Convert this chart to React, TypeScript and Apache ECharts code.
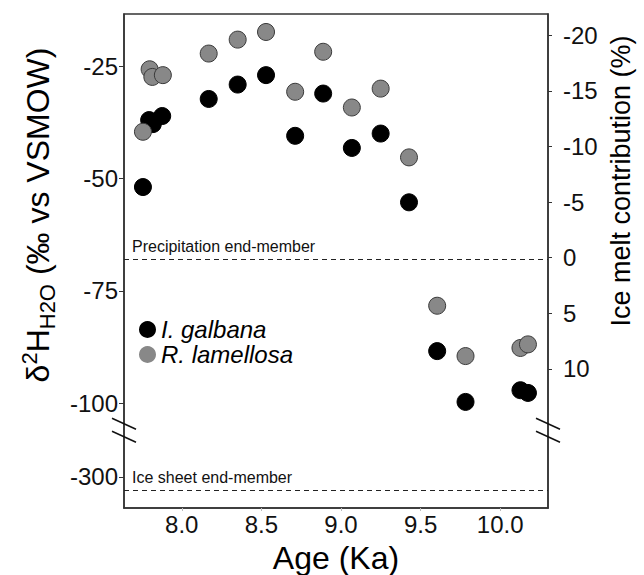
import React, { useEffect, useRef } from "react";
import * as echarts from "echarts";

// ---- data ----
const ageGalbana = [7.756, 7.795, 7.818, 7.877, 8.169, 8.351, 8.529, 8.712, 8.888, 9.068, 9.249, 9.427, 9.604, 9.782, 10.127, 10.174];
const d2hGalbana = [-51.9, -37.0, -37.9, -36.1, -32.3, -29.1, -27.0, -40.5, -31.1, -43.2, -40.0, -55.3, -88.4, -99.7, -97.1, -97.7];
const ageLamellosa = [7.756, 7.798, 7.815, 7.881, 8.169, 8.351, 8.529, 8.712, 8.888, 9.068, 9.249, 9.427, 9.604, 9.782, 10.127, 10.174];
const d2hLamellosa = [-39.6, -25.7, -27.4, -27.0, -22.2, -19.1, -17.4, -30.7, -21.8, -34.2, -30.0, -45.3, -78.3, -89.5, -87.7, -86.9];

const xTicks = [8.0, 8.5, 9.0, 9.5, 10.0];
const leftTicks = [-25, -50, -75, -100, -300];
const rightTicks = [-20, -15, -10, -5, 0, 5, 10];

const PRECIP_END = -68;
const ICE_END = -303;

// broken axis: values below the break are shifted up into the compressed lower band
const BREAK_SHIFT = 183.6;
const BREAK_MID = -106;
const toAxis = (d: number) => (d > -200 ? d : d + BREAK_SHIFT);

const FONT = "'Liberation Sans', Arial, Helvetica, sans-serif";
const AXIS_COLOR = "#333";

export default function App() {
  const ref = useRef<HTMLDivElement>(null);

  useEffect(() => {
    if (!ref.current) return;
    const chart = echarts.init(ref.current, null, { renderer: "svg" });
    const leftTickPos = leftTicks.map(toAxis);
    const leftLabel = (v: number) => {
      const i = leftTickPos.findIndex((p) => Math.abs(p - v) < 1e-6);
      return i >= 0 ? String(leftTicks[i]) : "";
    };

    chart.setOption({
      animation: false,
      backgroundColor: "#fff",
      textStyle: { fontFamily: FONT },
      grid: {
        left: 124,
        right: 96,
        top: 14,
        bottom: 67,
        show: true,
        outerBoundsMode: "none",
        containLabel: false,
        borderColor: AXIS_COLOR,
        borderWidth: 1.5,
        backgroundColor: "transparent",
      },
      xAxis: {
        type: "value",
        min: 7.637,
        max: 10.3,
        axisLine: { show: true, onZero: false, lineStyle: { color: AXIS_COLOR, width: 1.5 } },
        axisTick: { show: true, length: 3, customValues: xTicks, lineStyle: { color: "#bbb" } },
        axisLabel: {
          customValues: xTicks,
          formatter: (v: number) => v.toFixed(1),
          fontSize: 24,
          color: "#111",
          margin: 4,
          fontFamily: FONT,
        },
        splitLine: { show: false },
        name: "Age (Ka)",
        nameLocation: "middle",
        nameGap: 30,
        nameTextStyle: { fontSize: 32, lineHeight: 34, color: "#000", fontFamily: FONT },
      },
      yAxis: [
        {
          type: "value",
          position: "left",
          min: -123.3,
          max: -13.4,
          axisLine: { show: true, onZero: false, lineStyle: { color: AXIS_COLOR, width: 1.5 } },
          axisTick: { show: true, length: 5, customValues: leftTickPos, lineStyle: { color: AXIS_COLOR } },
          axisLabel: {
            customValues: leftTickPos,
            formatter: leftLabel,
            fontSize: 24,
            color: "#111",
            margin: 6,
            fontFamily: FONT,
          },
          splitLine: { show: false },
        },
        {
          type: "value",
          position: "right",
          inverse: true,
          min: -21.9,
          max: 22.5,
          axisLine: { show: true, onZero: false, lineStyle: { color: AXIS_COLOR, width: 1.5 } },
          axisTick: { show: true, length: 4, customValues: rightTicks, lineStyle: { color: AXIS_COLOR } },
          axisLabel: {
            customValues: rightTicks,
            formatter: (v: number) => String(v),
            fontSize: 24,
            color: "#111",
            margin: 15,
            fontFamily: FONT,
          },
          splitLine: { show: false },
        },
      ],
      legend: {
        orient: "vertical",
        left: 139,
        top: 317,
        padding: 0,
        itemGap: 0,
        itemWidth: 17,
        itemHeight: 17,
        icon: "circle",
        itemStyle: { borderWidth: 0, opacity: 1 },
        textStyle: { fontSize: 24, fontStyle: "italic", color: "#000", lineHeight: 25, fontFamily: FONT },
        data: ["I. galbana", "R. lamellosa"],
      },
      series: [
        {
          name: "I. galbana",
          type: "scatter",
          yAxisIndex: 0,
          symbol: "circle",
          symbolSize: 17,
          itemStyle: { color: "#000", borderColor: "#000", borderWidth: 1, opacity: 1 },
          data: ageGalbana.map((a, i) => [a, toAxis(d2hGalbana[i])]),
          markLine: {
            silent: true,
            symbol: "none",
            animation: false,
            lineStyle: { color: "#222", type: [5, 4], width: 1 },
            data: [
              {
                yAxis: toAxis(PRECIP_END),
                label: {
                  show: true,
                  position: "insideStartTop",
                  formatter: "Precipitation end-member",
                  fontSize: 16,
                  color: "#111",
                  distance: [8, 5],
                  fontFamily: FONT,
                },
              },
              {
                yAxis: toAxis(ICE_END),
                label: {
                  show: true,
                  position: "insideStartTop",
                  formatter: "Ice sheet end-member",
                  fontSize: 16,
                  color: "#111",
                  distance: [8, 5],
                  fontFamily: FONT,
                },
              },
            ],
          },
        },
        {
          name: "R. lamellosa",
          type: "scatter",
          yAxisIndex: 0,
          symbol: "circle",
          symbolSize: 17,
          itemStyle: { color: "#888", borderColor: "#3a3a3a", borderWidth: 1, opacity: 1 },
          data: ageLamellosa.map((a, i) => [a, toAxis(d2hLamellosa[i])]),
        },
      ],
    });

    // decorations: axis titles and break marks
    const yBreak = chart.convertToPixel({ yAxisIndex: 0 }, BREAK_MID) as number;
    const xLeft = chart.convertToPixel({ xAxisIndex: 0 }, 7.637) as number;
    const xRight = chart.convertToPixel({ xAxisIndex: 0 }, 10.3) as number;
    const slash = (cx: number, cy: number) => ({
      type: "line",
      shape: { x1: cx - 12, y1: cy - 5.5, x2: cx + 12, y2: cy + 5.5 },
      style: { stroke: "#111", lineWidth: 1.5 },
      z: 10,
    });

    chart.setOption({
      graphic: [
        slash(xLeft, yBreak - 6.5),
        slash(xLeft, yBreak + 6.5),
        slash(xRight, yBreak - 6.5),
        slash(xRight, yBreak + 6.5),
        {
          type: "text",
          x: 38,
          y: 215,
          rotation: Math.PI / 2,
          style: {
            text: "{m|δ}{sup|2}{m|H}{sub|H2O}{m| (‰ vs VSMOW)}",
            align: "center",
            verticalAlign: "middle",
            textAlign: "center",
            textVerticalAlign: "middle",
            fill: "#000",
            rich: {
              m: { fontSize: 32, lineHeight: 40, fontFamily: FONT, fill: "#000", color: "#000" },
              sup: { fontSize: 22, lineHeight: 22, verticalAlign: "top", fontFamily: FONT, fill: "#000", color: "#000" },
              sub: { fontSize: 22, lineHeight: 20, verticalAlign: "bottom", fontFamily: FONT, fill: "#000", color: "#000" },
            },
          },
        },
        {
          type: "text",
          x: 621,
          y: 181,
          rotation: Math.PI / 2,
          style: {
            text: "Ice melt contribution (%)",
            align: "center",
            verticalAlign: "middle",
            textAlign: "center",
            textVerticalAlign: "middle",
            fontSize: 27,
            fontFamily: FONT,
            fill: "#000",
          },
        },
      ],
    });

    return () => chart.dispose();
  }, []);

  return <div ref={ref} style={{ width: 644, height: 575, position: "absolute", left: 0, top: 0 }} />;
}
